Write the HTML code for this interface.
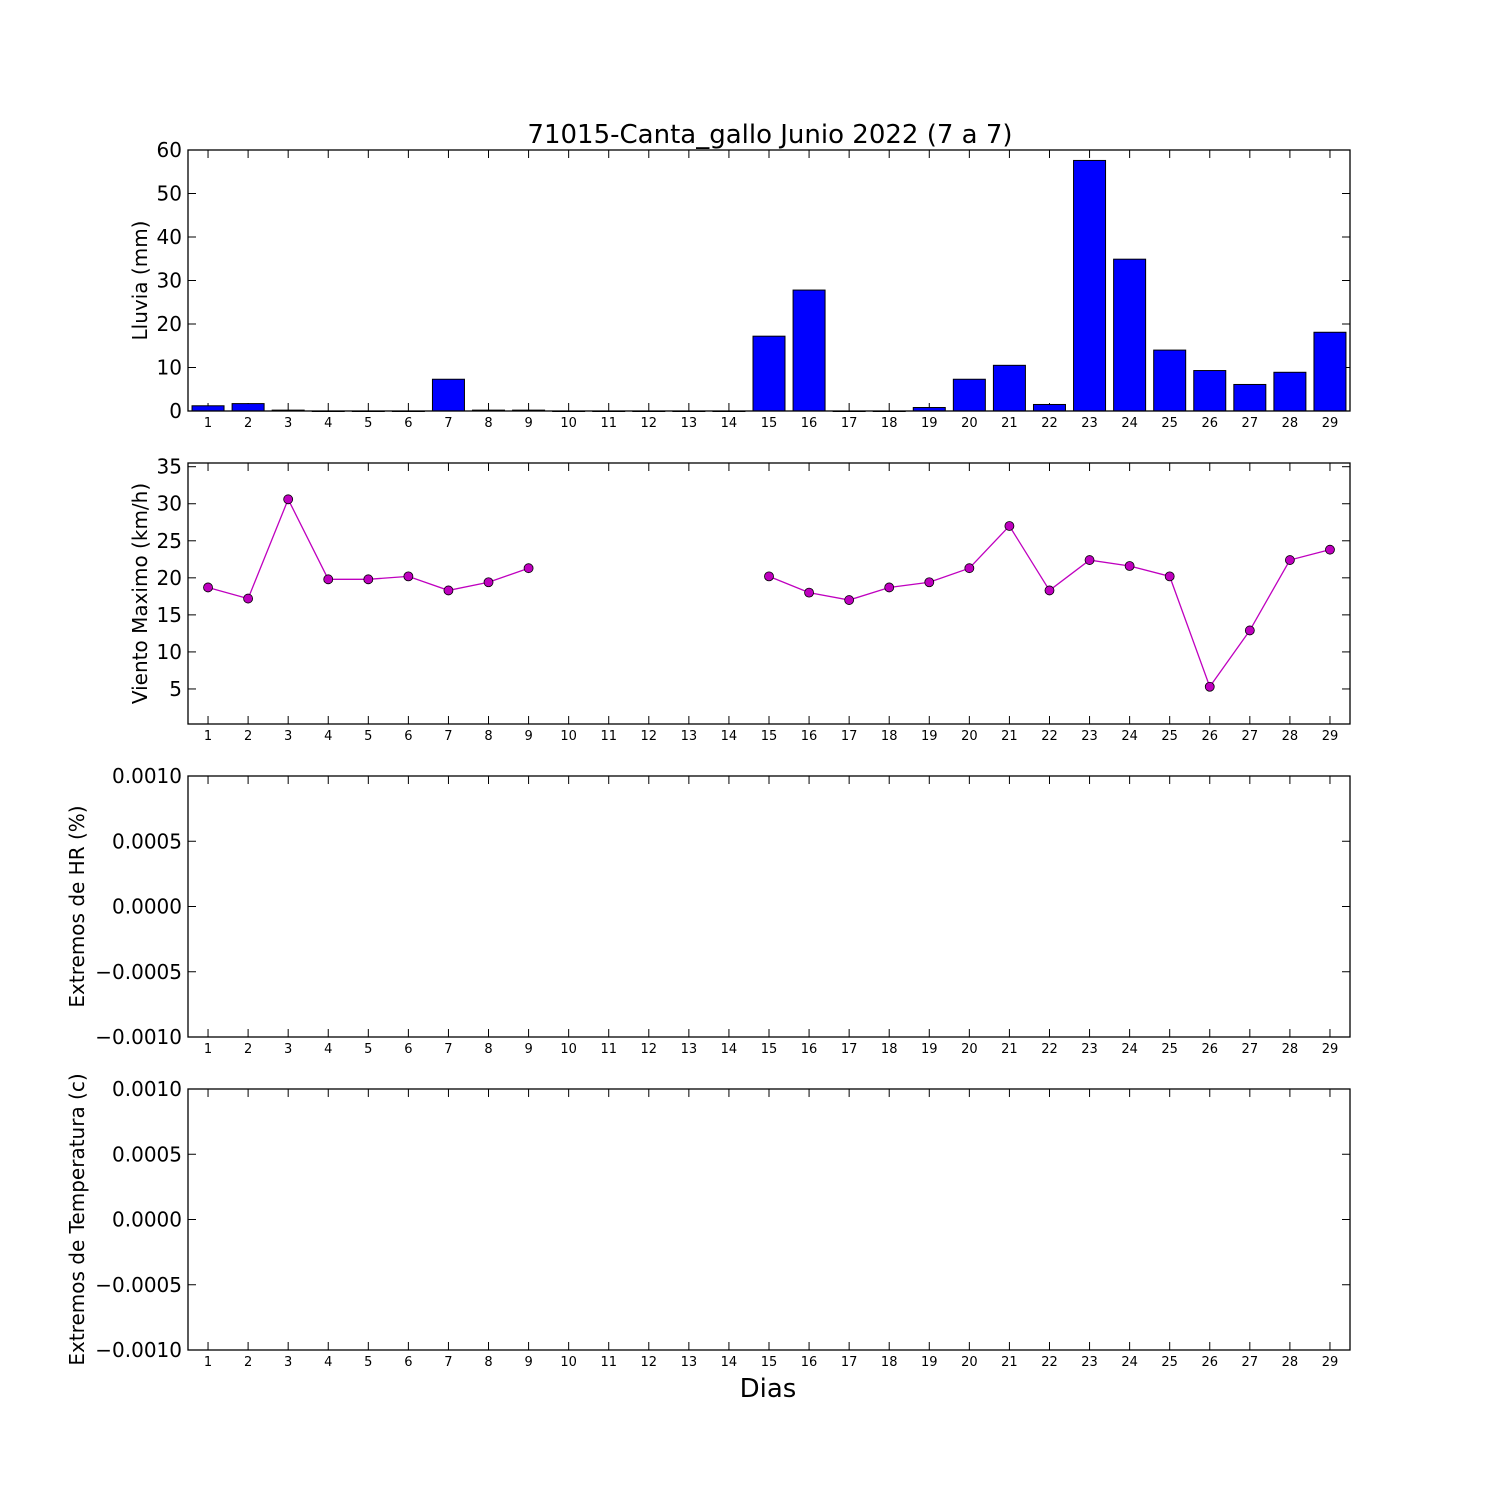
<!DOCTYPE html>
<html><head><meta charset="utf-8"><style>
html,body{margin:0;padding:0;background:#fff;}
svg{display:block;font-family:"DejaVu Sans","Liberation Sans",sans-serif;}
</style></head><body>
<svg id="chart" width="1500" height="1500" viewBox="0 0 1500 1500">
<text x="770" y="143" font-size="26" text-anchor="middle">71015-Canta_gallo Junio 2022  (7 a 7)</text>
<text x="768" y="1397" font-size="26" text-anchor="middle">Dias</text>
</svg>
<script>
const days = [1,2,3,4,5,6,7,8,9,10,11,12,13,14,15,16,17,18,19,20,21,22,23,24,25,26,27,28,29];
const rain = [1.2,1.7,0.2,0,0,0,7.3,0.2,0.2,0,0,0,0,0,17.2,27.8,0,0,0.8,7.3,10.5,1.5,57.6,34.9,14.0,9.3,6.1,8.9,18.1];
const windDays = [1,2,3,4,5,6,7,8,9,15,16,17,18,19,20,21,22,23,24,25,26,27,28,29];
const wind = [18.7,17.2,30.6,19.8,19.8,20.2,18.3,19.4,21.3,20.2,18.0,17.0,18.7,19.4,21.3,27.0,18.3,22.4,21.6,20.2,5.3,12.9,22.4,23.8];
const rainTicks = [0,10,20,30,40,50,60];
const windTicks = [5,10,15,20,25,30,35];
const zeroTicks = [-0.001,-0.0005,0,0.0005,0.001];
const zeroLabels = ["\u22120.0010","\u22120.0005","0.0000","0.0005","0.0010"];

const NS="http://www.w3.org/2000/svg";
const svg=document.getElementById('chart');
const X0=188,X1=1350,XMIN=0.5,XMAX=29.5;
const xs=v=>X0+(v-XMIN)/(XMAX-XMIN)*(X1-X0);
function mk(tag,attrs,parent){const e=document.createElementNS(NS,tag);for(const k in attrs)e.setAttribute(k,attrs[k]);(parent||svg).appendChild(e);return e;}

function panel(name,top,bottom,ymin,ymax,yticks,ylabels,ytitle,tx){
  const g=mk('g',{});
  
  
  const ys=v=>bottom-(v-ymin)/(ymax-ymin)*(bottom-top);
  yticks.forEach((t,i)=>{
    const y=ys(t);
    const l=mk('line',{x1:X0,x2:X0+8,y1:y,y2:y,stroke:'#000'},g);
    
    
    mk('line',{x1:X1,x2:X1-8,y1:y,y2:y,stroke:'#000'},g);
    const tt=mk('text',{x:X0-6,y:y+7,'font-size':20,'text-anchor':'end'},g);
    tt.textContent=ylabels?ylabels[i]:String(t);
    
    
  });
  days.forEach(d=>{
    const x=xs(d);
    mk('line',{x1:x,x2:x,y1:bottom,y2:bottom-8,stroke:'#000'},g);
    mk('line',{x1:x,x2:x,y1:top,y2:top+8,stroke:'#000'},g);
    const tt=mk('text',{x:x,y:bottom+16,'font-size':13,'text-anchor':'middle'},g);
    tt.textContent=String(d);
    
    
  });
  const yt=mk('text',{x:0,y:0,'font-size':20,'text-anchor':'middle',transform:`translate(${tx},${(top+bottom)/2}) rotate(-90)`},g);
  yt.textContent=ytitle;
  
  
  return {g,ys,top,bottom};
}
function frame(p){const r=mk('rect',{x:X0,y:p.top,width:X1-X0,height:p.bottom-p.top,fill:'none',stroke:'#000','stroke-width':1.3});
  
  }

// Panel 1 rain
const p1=panel('rain',150,411,0,60,rainTicks,null,'Lluvia (mm)',147);
days.forEach((d,i)=>{
  const y=p1.ys(rain[i]);
  const b=mk('rect',{x:xs(d)-16,y:y,width:32,height:Math.max(p1.bottom-y,0.5),fill:'#0000ff',stroke:'#000','stroke-width':1});
  
  
});
frame(p1);

// Panel 2 wind
const p2=panel('wind',463,724,0.27,35.5,windTicks,null,'Viento Maximo (km/h)',147);
function seg(idx){return idx.map(i=>xs(windDays[i])+','+p2.ys(wind[i])).join(' ');}
const a=[],b=[];windDays.forEach((d,i)=>(d<=9?a:b).push(i));
[a,b].forEach((s,k)=>{const pl=mk('polyline',{points:seg(s),fill:'none',stroke:'#bf00bf','stroke-width':1.3},p2.g);
  
  });
windDays.forEach((d,i)=>{
  const c=mk('circle',{cx:xs(d),cy:p2.ys(wind[i]),r:4.5,fill:'#bf00bf',stroke:'#000','stroke-width':0.8},p2.g);
  
  
});
frame(p2);

const p3=panel('humidity',776,1037,-0.001,0.001,zeroTicks,zeroLabels,'Extremos de HR (%)',84);
frame(p3);
const p4=panel('temperature',1089,1350,-0.001,0.001,zeroTicks,zeroLabels,'Extremos de Temperatura (c)',84);
frame(p4);
</script>
</body></html>
